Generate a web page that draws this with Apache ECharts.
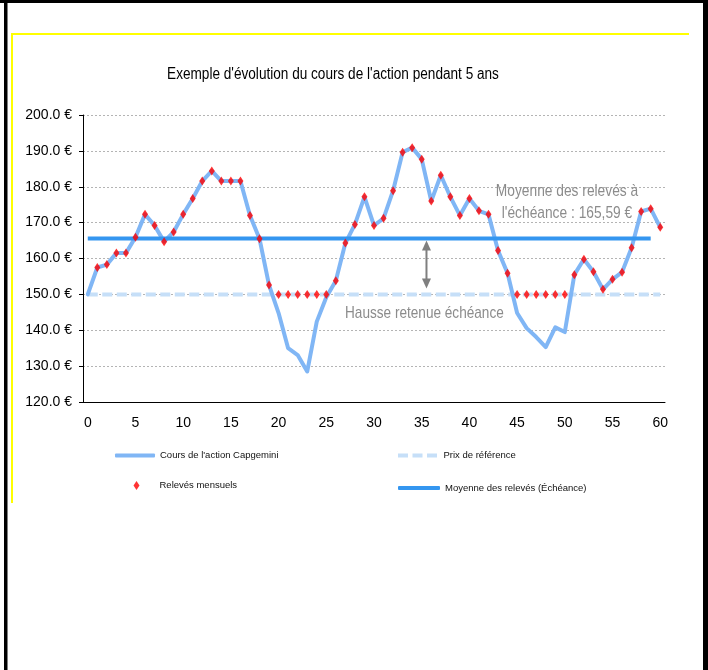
<!DOCTYPE html>
<html><head><meta charset="utf-8">
<script src="https://cdn.jsdelivr.net/npm/echarts@6/dist/echarts.min.js"></script>
<style>html,body{margin:0;padding:0;background:#fff}#c{width:708px;height:670px}</style>
</head><body><div id="c"></div>
<script>
const categories = ['0','1','2','3','4','5','6','7','8','9','10','11','12','13','14','15','16','17','18','19','20','21','22','23','24','25','26','27','28','29','30','31','32','33','34','35','36','37','38','39','40','41','42','43','44','45','46','47','48','49','50','51','52','53','54','55','56','57','58','59','60'];
const coursAction = [150,157.5,158.3,161.5,161.5,165.9,172.3,169.2,164.7,167.4,172.3,176.7,181.6,184.4,181.6,181.6,181.6,172.0,165.5,152.6,144.8,135.0,133.1,128.5,142.4,149.2,153.8,164.3,169.5,177.2,169.2,171.2,178.9,189.6,190.9,187.7,176.0,183.2,177.2,172.0,176.7,173.3,172.3,162.2,155.9,144.8,140.6,138.1,135.3,140.8,139.5,155.5,159.8,156.3,151.4,154.2,156.2,163.0,173.1,173.9,168.7];
const relevesMensuels = ['-',157.5,158.3,161.5,161.5,165.9,172.3,169.2,164.7,167.4,172.3,176.7,181.6,184.4,181.6,181.6,181.6,172.0,165.5,152.6,150,150,150,150,150,150,153.8,164.3,169.5,177.2,169.2,171.2,178.9,189.6,190.9,187.7,176.0,183.2,177.2,172.0,176.7,173.3,172.3,162.2,155.9,150,150,150,150,150,150,155.5,159.8,156.3,151.4,154.2,156.2,163.0,173.1,173.9,168.7];
const prixReference = [150,150,150,150,150,150,150,150,150,150,150,150,150,150,150,150,150,150,150,150,150,150,150,150,150,150,150,150,150,150,150,150,150,150,150,150,150,150,150,150,150,150,150,150,150,150,150,150,150,150,150,150,150,150,150,150,150,150,150,150,150];
const moyenneReleves = [165.59,165.59,165.59,165.59,165.59,165.59,165.59,165.59,165.59,165.59,165.59,165.59,165.59,165.59,165.59,165.59,165.59,165.59,165.59,165.59,165.59,165.59,165.59,165.59,165.59,165.59,165.59,165.59,165.59,165.59,165.59,165.59,165.59,165.59,165.59,165.59,165.59,165.59,165.59,165.59,165.59,165.59,165.59,165.59,165.59,165.59,165.59,165.59,165.59,165.59,165.59,165.59,165.59,165.59,165.59,165.59,165.59,165.59,165.59,165.59,'-'];
const seriesNames = ["Cours de l'action Capgemini", 'Prix de référence', 'Relevés mensuels', 'Moyenne des relevés (Échéance)'];
const titleText = "Exemple d'évolution du cours de l'action pendant 5 ans";
const noteMoyenne = 'Moyenne des relevés à\nl\'échéance : 165,59 €';
const noteHausse = 'Hausse retenue échéance';

const FONT = "'Liberation Sans',Arial,sans-serif";
const C_PRICE = '#80B6F5', C_REF = '#C6DFF8', C_MEAN = '#3496F0', C_RED = '#FF0000';
const legendText = {fontSize: 9.5, color: '#111', fontFamily: FONT};

const chart = echarts.init(document.getElementById('c'), null, {renderer: 'canvas'});
const option = {
  animation: false,
  backgroundColor: '#fff',
  grid: {left: 83, right: 43, top: 115, bottom: 268},
  xAxis: {type: 'category', data: categories, boundaryGap: true,
    axisLine: {lineStyle: {color: '#000', width: 1}},
    axisTick: {interval: 4, length: 6, lineStyle: {color: '#000'}},
    axisLabel: {interval: 4, margin: 14, color: '#000', fontSize: 14, fontFamily: FONT},
    splitLine: {show: false}},
  yAxis: {type: 'value', min: 120, max: 200, interval: 10,
    axisLine: {show: true, lineStyle: {color: '#000', width: 1}},
    axisTick: {show: true, length: 4, lineStyle: {color: '#000'}},
    axisLabel: {formatter: v => v.toFixed(1) + ' €', margin: 11, color: '#000', fontSize: 14, fontFamily: FONT},
    splitLine: {lineStyle: {color: '#B4B4B4', type: [2, 2], width: 1}}},
  legend: [
    {data: [{name: seriesNames[0], icon: 'roundRect'}], left: 115, top: 450.5, itemWidth: 40, itemHeight: 4, padding: 0, textStyle: legendText, selectedMode: false},
    {data: [{name: seriesNames[1], icon: 'path://M0,0h10v4h-10zM14.5,0h10v4h-10zM29,0h10v4h-10z'}], left: 398, top: 450.5, itemWidth: 42, itemHeight: 4, padding: 0, textStyle: legendText, selectedMode: false},
    {data: [{name: seriesNames[2], icon: 'diamond'}], left: 133.5, top: 480.5, itemWidth: 6, itemHeight: 9, padding: 0, textStyle: Object.assign({padding: [0, 0, 0, 15]}, legendText), selectedMode: false},
    {data: [{name: seriesNames[3], icon: 'roundRect'}], left: 398, top: 483, itemWidth: 42, itemHeight: 4, padding: 0, textStyle: legendText, selectedMode: false}
  ],
  series: [
    {name: seriesNames[0], type: 'line', data: coursAction, symbol: 'none', z: 3,
      lineStyle: {color: C_PRICE, width: 4, cap: 'round', join: 'round'}, itemStyle: {color: C_PRICE}},
    {name: seriesNames[1], type: 'line', data: prixReference, symbol: 'none', z: 2,
      lineStyle: {color: C_REF, width: 4, type: [10, 4.5]}, itemStyle: {color: C_REF}},
    {name: seriesNames[2], type: 'scatter', data: relevesMensuels, symbol: 'diamond', symbolSize: [6, 9], z: 6,
      itemStyle: {color: C_RED}},
    {name: seriesNames[3], type: 'line', data: moyenneReleves, symbol: 'none', z: 4,
      lineStyle: {color: C_MEAN, width: 4}, itemStyle: {color: C_MEAN}}
  ]
};
chart.setOption(option);

const px = (cat, val) => chart.convertToPixel({gridIndex: 0}, [cat, val]);
const ax = (px('35', 150)[0] + px('36', 150)[0]) / 2;
const yMean = px('0', 165.59)[1];
const yRef = px('0', 150)[1];
const aTop = yMean + 2, aBot = yRef - 6;
const grey = '#7F7F7F';

chart.setOption({
  graphic: [
    {type: 'rect', shape: {x: 0, y: 0, width: 708, height: 3}, style: {fill: '#000'}, silent: true},
    {type: 'rect', shape: {x: 4, y: 0, width: 3.5, height: 670}, style: {fill: '#000'}, silent: true},
    {type: 'rect', shape: {x: 703, y: 0, width: 5, height: 670}, style: {fill: '#000'}, silent: true},
    {type: 'rect', shape: {x: 11, y: 33, width: 678, height: 2}, style: {fill: '#FFFF00'}, silent: true},
    {type: 'rect', shape: {x: 11, y: 33, width: 2, height: 470}, style: {fill: '#FFFF00'}, silent: true},
    {type: 'text', x: 333, y: 75, scaleX: 0.85, style: {text: titleText, fill: '#000', font: '16px ' + FONT, align: 'center', verticalAlign: 'middle'}, silent: true},
    {type: 'line', shape: {x1: ax, y1: aTop + 8, x2: ax, y2: aBot - 8}, style: {stroke: grey, lineWidth: 2}, silent: true},
    {type: 'polygon', shape: {points: [[ax, aTop], [ax - 4.5, aTop + 10], [ax + 4.5, aTop + 10]]}, style: {fill: grey}, silent: true},
    {type: 'polygon', shape: {points: [[ax, aBot], [ax - 4.5, aBot - 10], [ax + 4.5, aBot - 10]]}, style: {fill: grey}, silent: true},
    {type: 'text', x: 567, y: 202, scaleX: 0.81, style: {text: noteMoyenne, fill: '#8C8C8C', font: '17px ' + FONT, align: 'center', verticalAlign: 'middle', lineHeight: 22}, silent: true},
    {type: 'text', x: 345, y: 313.5, scaleX: 0.8, style: {text: noteHausse, fill: '#8C8C8C', font: '17px ' + FONT, align: 'left', verticalAlign: 'middle'}, silent: true}
  ]
});
</script>
</body></html>
